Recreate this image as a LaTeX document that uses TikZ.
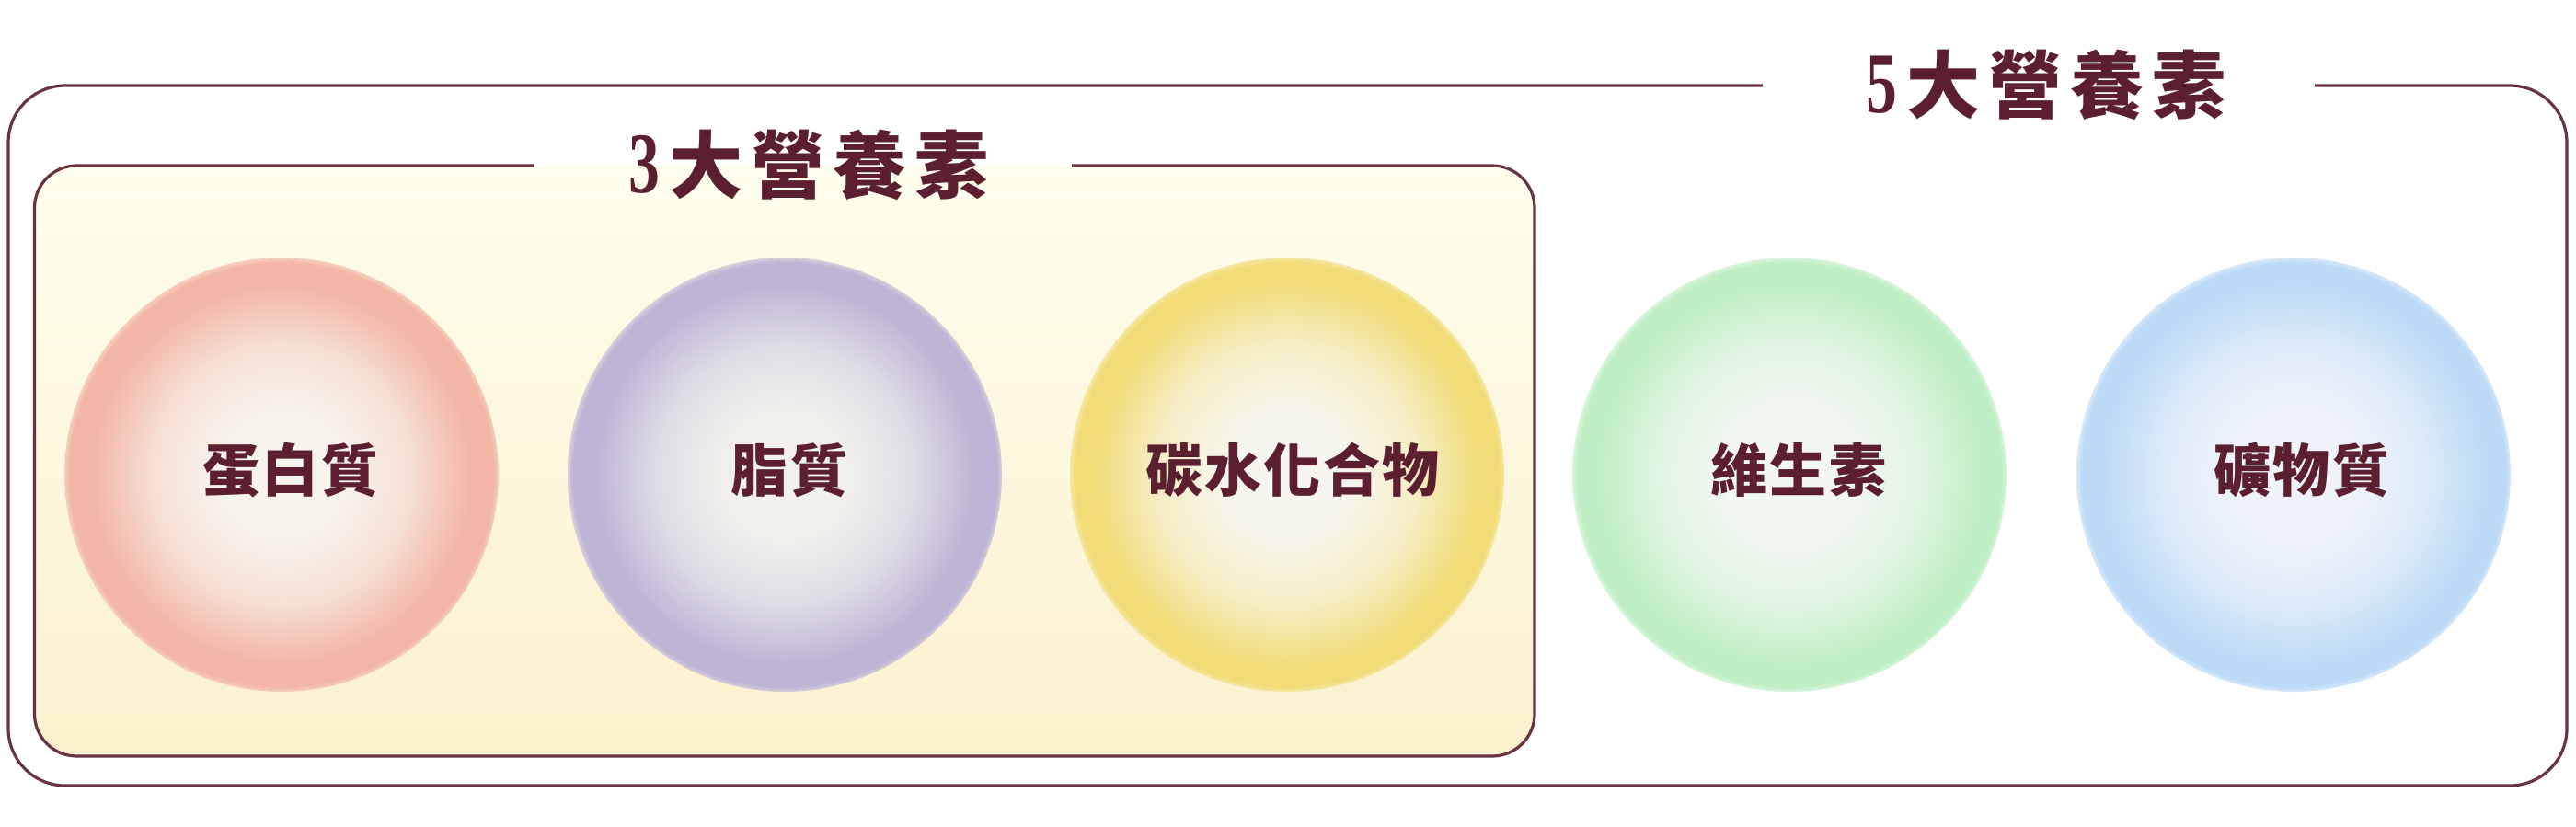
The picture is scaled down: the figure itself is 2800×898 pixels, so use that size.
\documentclass[tikz,border=0pt]{standalone}
\usepackage{fontspec}
\newfontfamily\cjk{Noto Sans CJK TC}[LetterSpace=4]
\newfontfamily\cjkt{Noto Sans CJK TC}[LetterSpace=11]
\newfontfamily\numfont{Liberation Serif}
\definecolor{linec}{HTML}{6A3343}
\definecolor{textc}{HTML}{5C1F30}
\definecolor{boxtop}{HTML}{FEFDED}
\definecolor{boxbot}{HTML}{FBF1CE}
\definecolor{boxmid}{HTML}{FCF8E0}
% ball colours
\definecolor{pcen}{HTML}{F7F4EC}\definecolor{pedge}{HTML}{F2B5A6}
\definecolor{vcen}{HTML}{F1F0EC}\definecolor{vedge}{HTML}{BDB4D6}
\definecolor{ycen}{HTML}{F7F6EE}\definecolor{yedge}{HTML}{F1DC78}
\definecolor{gcen}{HTML}{F3F7F2}\definecolor{gedge}{HTML}{BFEEC4}
\definecolor{bcen}{HTML}{EFF3F9}\definecolor{bedge}{HTML}{BCDAF6}
\colorlet{pmid}{pedge!35!pcen}\colorlet{pfea}{pedge!60!boxmid}
\colorlet{vmid}{vedge!35!vcen}\colorlet{vfea}{vedge!60!boxmid}
\colorlet{ymid}{yedge!35!ycen}\colorlet{yfea}{yedge!60!boxmid}
\colorlet{gmid}{gedge!35!gcen}\colorlet{gfea}{gedge!60!white}
\colorlet{bmid}{bedge!35!bcen}\colorlet{bfea}{bedge!60!white}
\pgfdeclareradialshading{pball}{\pgfpoint{0bp}{0bp}}{color(0bp)=(pcen); color(7bp)=(pcen); color(15bp)=(pmid); color(22bp)=(pedge); color(24.4bp)=(pedge); color(25bp)=(pfea); color(50bp)=(pfea)}
\pgfdeclareradialshading{vball}{\pgfpoint{0bp}{0bp}}{color(0bp)=(vcen); color(7bp)=(vcen); color(15bp)=(vmid); color(22bp)=(vedge); color(24.4bp)=(vedge); color(25bp)=(vfea); color(50bp)=(vfea)}
\pgfdeclareradialshading{yball}{\pgfpoint{0bp}{0bp}}{color(0bp)=(ycen); color(7bp)=(ycen); color(15bp)=(ymid); color(22bp)=(yedge); color(24.4bp)=(yedge); color(25bp)=(yfea); color(50bp)=(yfea)}
\pgfdeclareradialshading{gball}{\pgfpoint{0bp}{0bp}}{color(0bp)=(gcen); color(7bp)=(gcen); color(15bp)=(gmid); color(22bp)=(gedge); color(24.4bp)=(gedge); color(25bp)=(gfea); color(50bp)=(gfea)}
\pgfdeclareradialshading{bball}{\pgfpoint{0bp}{0bp}}{color(0bp)=(bcen); color(7bp)=(bcen); color(15bp)=(bmid); color(22bp)=(bedge); color(24.4bp)=(bedge); color(25bp)=(bfea); color(50bp)=(bfea)}
\tikzset{
  frame/.style={draw=linec, line width=3.2pt},
  ball/.style={circle, minimum size=472pt, inner sep=0pt, draw=none},
  label/.style={anchor=base, inner sep=0pt, text=textc, font=\cjk\bfseries\fontsize{62pt}{70pt}\selectfont},
  title/.style={anchor=base, inner sep=0pt, text=textc, font=\cjkt\bfseries\fontsize{80pt}{90pt}\selectfont},
}
\newcommand{\dig}[1]{{\numfont\bfseries\fontsize{94pt}{100pt}\selectfont\scalebox{0.72}[1]{#1}}\hspace{10pt}}
\begin{document}
\begin{tikzpicture}[x=1pt,y=-1pt]
\useasboundingbox (0,0) rectangle (2800,898);
% inner box fill
\shade[top color=boxtop, bottom color=boxbot, rounded corners=46pt] (37.5,180) rectangle (1668,822);
% balls
\node[ball, shading=pball] (protein) at (306,516) {};
\node[ball, shading=vball] (fat) at (853,516) {};
\node[ball, shading=yball] (carb) at (1399,516) {};
\node[ball, shading=gball] (vita) at (1945,516) {};
\node[ball, shading=bball] (mineral) at (2493,516) {};
% labels
\node[label] (lprotein) at (316,534) {蛋白質};
\node[label] (lfat) at (858,534) {脂質};
\node[label] (lcarb) at (1405,534) {碳水化合物};
\node[label] (lvita) at (1955,534) {維生素};
\node[label] (lmineral) at (2502,534) {礦物質};
% frames with title gaps
\draw[frame, rounded corners=62pt] (2516,93) -- (2790,93) -- (2790,854) -- (9,854) -- (9,93) -- (1916,93);
\draw[frame, rounded corners=46pt] (1165,180) -- (1668,180) -- (1668,822) -- (37.5,822) -- (37.5,180) -- (580,180);
% titles
\node[title] (three) at (879,209) {\dig{3}大營養素};
\node[title] (five) at (2224,122) {\dig{5}大營養素};
\end{tikzpicture}
\end{document}
